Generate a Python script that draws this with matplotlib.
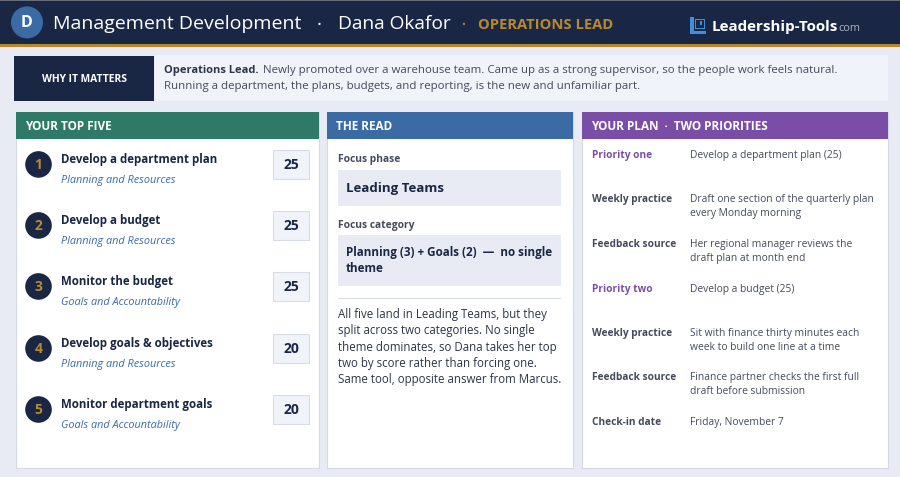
"""Management development one-pager, drawn in pixel coordinates on a single axes."""
import matplotlib
matplotlib.use("Agg")
import matplotlib.pyplot as plt
from matplotlib.patches import Circle, Rectangle

plt.rcParams["font.family"] = ["Open Sans", "DejaVu Sans"]

NAVY = "#1a2744"
GOLD = "#b8892f"
BG = "#e8ebf3"
PALE = "#f0f3fa"
SLATE = "#454b5c"
GREEN = "#2e7a66"
BLUE = "#3a6ba5"
PURPLE = "#7a4ea6"
RULE = "#d8dce6"
LOGO = "#3f8fdc"

skills = ["Develop a department plan", "Develop a budget", "Monitor the budget",
          "Develop goals & objectives", "Monitor department goals"]
categories = ["Planning and Resources", "Planning and Resources", "Goals and Accountability",
              "Planning and Resources", "Goals and Accountability"]
scores = [25, 25, 25, 20, 20]

why_lines = ["Newly promoted over a warehouse team. Came up as a strong supervisor, so the people work feels natural.",
             "Running a department, the plans, budgets, and reporting, is the new and unfamiliar part."]
read_lines = ["All five land in Leading Teams, but they",
              "split across two categories. No single",
              "theme dominates, so Dana takes her top",
              "two by score rather than forcing one.",
              "Same tool, opposite answer from Marcus."]
plan_labels = ["Priority one", "Weekly practice", "Feedback source", "Priority two",
               "Weekly practice", "Feedback source", "Check-in date"]
plan_values = ["Develop a department plan (25)",
               "Draft one section of the quarterly plan\nevery Monday morning",
               "Her regional manager reviews the\ndraft plan at month end",
               "Develop a budget (25)",
               "Sit with finance thirty minutes each\nweek to build one line at a time",
               "Finance partner checks the first full\ndraft before submission",
               "Friday, November 7"]
plan_rows = [155, 199, 244, 289, 333, 377, 422]
row_tops = [159, 220, 281, 343, 404]

fig = plt.figure(figsize=(9, 4.771), dpi=100, facecolor=BG)
ax = fig.add_axes([0, 0, 1, 1])
ax.set_xlim(0, 900)
ax.set_ylim(477, 0)
ax.axis("off")


def box(x0, y0, x1, y1, fc, ec="none", lw=0, z=1):
    ax.add_patch(Rectangle((x0, y0), x1 - x0, y1 - y0, fc=fc, ec=ec, lw=lw, zorder=z))


def txt(x, y, s, size, color=NAVY, weight="normal", ha="left", style="normal", **kw):
    # open sans sits a little high with va=center, nudge it down
    return ax.text(x, y + 0.8, s, fontsize=size, color=color, fontweight=weight, ha=ha, va="center",
                   fontstyle=style, zorder=5, **kw)


# header band
box(0, 0, 900, 44, NAVY)
box(0, 0, 900, 1.5, "#6a6d78", z=2)
box(0, 44, 900, 47.5, GOLD, z=2)
ax.add_patch(Circle((27, 22.5), 16, fc=BLUE, ec="none", zorder=3))
txt(27, 22.5, "D", 11.5, "white", "bold", ha="center")
txt(53, 23, "Management Development", 14, "white")
txt(319, 24.5, "·", 14, "white", ha="center")
txt(338, 23, "Dana Okafor", 13.8, "white")
txt(463, 24.5, "·", 10, GOLD, "bold", ha="center")
txt(478, 24.5, "OPERATIONS LEAD", 10.6, GOLD, "bold")

# logo
box(690, 17, 706, 34, LOGO, z=3)
box(693.5, 17, 706, 31, NAVY, z=4)
box(695, 19, 704.5, 29.5, LOGO, z=4)
box(696, 20, 703.5, 28.5, NAVY, z=4)
box(699.5, 21, 702, 25, LOGO, z=4)
txt(712, 26, "Leadership-Tools", 10.9, "white", "bold")
txt(838, 28, "com", 7.8, "#a9b2c4")

# why it matters
box(13, 55, 888, 101, PALE)
box(13, 55, 154, 101, NAVY, ec="white", lw=0.6, z=2)
txt(84, 78.5, "WHY IT MATTERS", 7.4, "white", "bold", ha="center")
txt(164, 70, "Operations Lead.", 8.0, "#2e3548", "bold")
txt(263, 70, why_lines[0], 8.25, SLATE)
txt(164, 86, why_lines[1], 8.25, SLATE)

# three cards
for x0, x1, colour, title in [(16, 319, GREEN, "YOUR TOP FIVE"), (327, 573, BLUE, "THE READ"),
                              (582, 888, PURPLE, "YOUR PLAN  ·  TWO PRIORITIES")]:
    box(x0, 112, x1, 468, "white", ec="#d5d9e4", lw=0.8)
    box(x0, 112, x1, 139, colour, z=2)
    txt(x0 + 9, 125.5, title, 8.5, "white", "bold")

# top five
for i, top in enumerate(row_tops):
    ax.add_patch(Circle((38.5, top + 5.5), 13.3, fc=NAVY, ec="none", zorder=3))
    txt(38.5, top + 5, str(i + 1), 10, GOLD, "bold", ha="center")
    txt(61, top - 0.5, skills[i], 8.3, NAVY, "bold")
    txt(61, top + 21, categories[i], 7.8, BLUE, style="italic")
    box(273, top - 9, 309, top + 20, PALE, ec=RULE, lw=0.8, z=2)
    txt(291, top + 5, str(scores[i]), 10, NAVY, "bold", ha="center")

# the read
txt(338, 159, "Focus phase", 7.4, SLATE, "bold")
box(338, 170, 561, 206, BG, z=2)
txt(345.5, 188, "Leading Teams", 9.5, NAVY, "bold")
txt(338, 224.5, "Focus category", 7.4, SLATE, "bold")
box(338, 235, 561, 286, BG, z=2)
txt(345.5, 251.5, "Planning (3) + Goals (2)  —  no single", 8.35, NAVY, "bold")
txt(345.5, 268, "theme", 8.35, NAVY, "bold")
box(338, 298, 561, 299, RULE, z=2)
for i, line in enumerate(read_lines):
    txt(338, 314 + i * 16.1, line, 8.3, "#2e3548")

# plan
for i, y in enumerate(plan_rows):
    label_col = PURPLE if plan_labels[i].startswith("Priority") else SLATE
    txt(592, y, plan_labels[i], 7.3, label_col, "bold")
    for j, line in enumerate(plan_values[i].split("\n")):
        txt(690, y + j * 14, line, 7.4, SLATE)

fig.savefig("out.png", dpi=100, facecolor=BG)
